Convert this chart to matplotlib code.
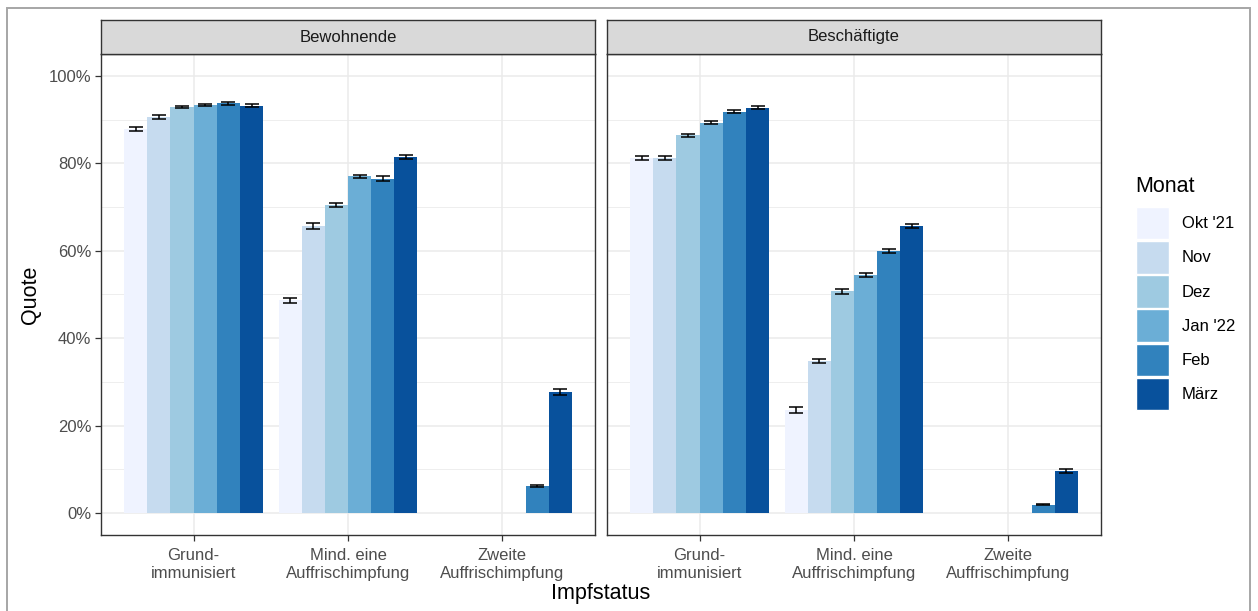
import numpy as np
import matplotlib
matplotlib.use("Agg")
import matplotlib.pyplot as plt
from matplotlib.patches import Patch, Rectangle

plt.rcParams["font.family"] = ["Liberation Sans", "DejaVu Sans"]

# -------------------------------
# Data (Anteile in %)
# -------------------------------
groups = ["Grund-\nimmunisiert", "Mind. eine\nAuffrischimpfung", "Zweite\nAuffrischimpfung"]
months = ["Okt '21", "Nov", "Dez", "Jan '22", "Feb", "März"]
colors = ["#EFF3FF", "#C6DBEF", "#9ECAE1", "#6BAED6", "#3182BD", "#08519C"]

panels = ["Bewohnende", "Beschäftigte"]

# rows = Impfstatus, cols = Monat
bew_vals = [[87.9, 90.6, 92.9, 93.3, 93.7, 93.2],
            [48.7, 65.6, 70.4, 77.0, 76.5, 81.4],
            [np.nan, np.nan, np.nan, np.nan, 6.2, 27.7]]
bew_err = [[0.4, 0.4, 0.3, 0.3, 0.3, 0.3],
           [0.6, 0.7, 0.5, 0.4, 0.5, 0.5],
           [0, 0, 0, 0, 0.2, 0.7]]

besch_vals = [[81.2, 81.2, 86.4, 89.3, 91.8, 92.7],
              [23.6, 34.8, 50.7, 54.5, 59.9, 65.7],
              [np.nan, np.nan, np.nan, np.nan, 1.9, 9.6]]
besch_err = [[0.4, 0.5, 0.4, 0.3, 0.3, 0.3],
             [0.6, 0.5, 0.5, 0.5, 0.5, 0.5],
             [0, 0, 0, 0, 0.1, 0.5]]

values = [bew_vals, besch_vals]
errors = [bew_err, besch_err]

# -------------------------------
# Figure
# -------------------------------
W, H = 1258, 611
fig = plt.figure(figsize=(W / 100, H / 100), dpi=100)

def fx(px):
    return px / W

def fy(py):
    return 1 - py / H

panel_left = [101, 607]
panel_w = 494
panel_top, panel_bot = 54, 535
strip_top = 20

bar_w = 0.15
x = np.arange(len(groups))

for p, name in enumerate(panels):
    ax = fig.add_axes([fx(panel_left[p]), fy(panel_bot), panel_w / W, (panel_bot - panel_top) / H])
    vals = np.array(values[p], dtype=float)
    errs = np.array(errors[p], dtype=float)
    for j, m in enumerate(months):
        pos = x + (j - 2.5) * bar_w
        ax.bar(pos, vals[:, j] / 100, width=bar_w, color=colors[j], zorder=2)
        ok = ~np.isnan(vals[:, j])
        ax.errorbar(pos[ok], vals[ok, j] / 100, yerr=errs[ok, j] / 100, fmt="none",
                    ecolor="black", elinewidth=1.1, capsize=4.7, capthick=1.1, zorder=3)

    ax.set_xlim(-0.6, 2.6)
    ax.set_ylim(-0.05, 1.05)
    ax.set_xticks(x)
    ax.set_xticklabels(groups, color="#4D4D4D", fontsize=12, linespacing=1.3)
    ax.set_yticks(np.arange(0, 1.01, 0.2))
    ax.set_yticks(np.arange(0.1, 1.0, 0.2), minor=True)
    if p == 0:
        ax.set_yticklabels([f"{int(v)}%" for v in np.arange(0, 101, 20)], color="#4D4D4D", fontsize=12)
    else:
        ax.set_yticklabels([])
    ax.tick_params(axis="both", which="major", length=4, width=0.9, color="#333333", pad=3)
    ax.tick_params(axis="x", which="major", pad=5)
    ax.tick_params(axis="y", which="minor", length=0)
    if p == 1:
        ax.tick_params(axis="y", which="major", length=0)
    ax.grid(True, which="major", color="#EBEBEB", lw=1.1, zorder=0)
    ax.grid(True, which="minor", axis="y", color="#EBEBEB", lw=0.6, zorder=0)
    ax.set_axisbelow(True)
    for s in ax.spines.values():
        s.set_color("#333333")
        s.set_linewidth(1.0)

    # facet strip
    sax = fig.add_axes([fx(panel_left[p]), fy(panel_top), panel_w / W, (panel_top - strip_top) / H])
    sax.set_facecolor("#D9D9D9")
    sax.set_xticks([])
    sax.set_yticks([])
    for s in sax.spines.values():
        s.set_color("#333333")
        s.set_linewidth(1.0)
    sax.text(0.5, 0.5, name, ha="center", va="center", fontsize=12, color="#1A1A1A",
             transform=sax.transAxes)

# axis titles
fig.text(fx(30), fy((panel_top + panel_bot) / 2), "Quote", rotation=90, ha="center", va="center",
         fontsize=15.5, color="black")
fig.text(fx(601), fy(594), "Impfstatus", ha="center", va="center", fontsize=15.5, color="black")

# legend (title drawn separately for ggplot-like spacing)
fig.text(fx(1135), fy(186), "Monat", ha="left", va="center", fontsize=15.5, color="black")
handles = [Patch(facecolor=c, edgecolor="white", linewidth=1.0) for c in colors]
leg = fig.legend(handles, months, loc="upper left",
                 bbox_to_anchor=(fx(1136), fy(207)), frameon=False, fontsize=12,
                 borderpad=0, borderaxespad=0, handlelength=1.95, handleheight=2.62,
                 labelspacing=0.1, handletextpad=0.8)

# outer frame
fig.patches.append(Rectangle((fx(7), -0.05), fx(1250) - fx(7), fy(8) + 0.05, fill=False,
                             edgecolor="#A6A6A6", lw=1.4, transform=fig.transFigure))

fig.savefig("out.png", dpi=100)
